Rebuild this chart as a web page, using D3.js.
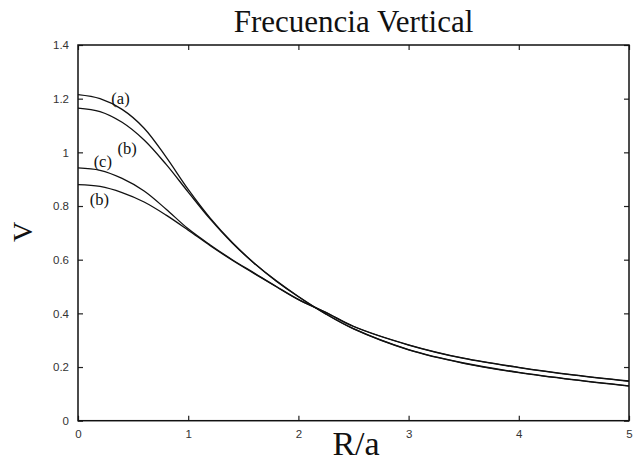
<!DOCTYPE html>
<html>
<head>
<meta charset="utf-8">
<script src="https://cdn.jsdelivr.net/npm/d3@7"></script>
<style>
  html, body { margin: 0; padding: 0; background: #fff; }
  svg { display: block; }
</style>
</head>
<body>
<svg id="chart" width="635" height="462"></svg>
<script>
// Radial positions R/a where the vertical frequency is sampled
const radius = [0, 0.2, 0.4, 0.6, 0.8, 1.0, 1.2, 1.4, 1.6, 1.8, 2.0, 2.25, 2.5, 3.0, 3.5, 4.0, 4.5, 5.0];

// Vertical frequency for each model
const nuA  = [1.215, 1.200, 1.160, 1.090, 0.982, 0.862, 0.755, 0.664, 0.587, 0.521, 0.463, 0.398, 0.343, 0.265, 0.215, 0.180, 0.153, 0.130];
const nuB1 = [1.165, 1.152, 1.112, 1.046, 0.955, 0.852, 0.751, 0.662, 0.586, 0.520, 0.462, 0.397, 0.342, 0.264, 0.214, 0.179, 0.152, 0.129];
const nuC  = [0.942, 0.933, 0.903, 0.856, 0.788, 0.715, 0.655, 0.600, 0.550, 0.500, 0.452, 0.404, 0.352, 0.283, 0.233, 0.199, 0.171, 0.148];
const nuB2 = [0.880, 0.873, 0.850, 0.815, 0.766, 0.710, 0.652, 0.598, 0.548, 0.499, 0.451, 0.403, 0.351, 0.282, 0.232, 0.198, 0.170, 0.147];

const series = [nuA, nuB1, nuC, nuB2];

// Curve tags and where they sit (data units: R/a, V)
const tagText = ["(a)", "(b)", "(c)", "(b)"];
const tagR    = [0.386, 0.445, 0.225, 0.195];
const tagV    = [1.181, 0.993, 0.945, 0.803];

// Axis ticks
const xTicks = [0, 1, 2, 3, 4, 5];
const yTicks = [0, 0.2, 0.4, 0.6, 0.8, 1.0, 1.2, 1.4];

const svg = d3.select("#chart");
const plotLeft = 78, plotRight = 629, plotTop = 45, plotBottom = 420.7;

const x = d3.scaleLinear().domain([0, 5]).range([plotLeft, plotRight]);
const y = d3.scaleLinear().domain([0, 1.4]).range([plotBottom, plotTop]);

const fmt = d => String(+d.toFixed(1));
const tickFont = "'Liberation Sans', Arial, sans-serif";
const serif = "'Liberation Serif', 'Times New Roman', serif";

// Inward ticks on all four sides
function styleAxis(g) {
  g.select(".domain").remove();
  g.selectAll(".tick line").attr("stroke", "#222").attr("stroke-width", 1.2);
  g.selectAll(".tick text")
    .attr("fill", "#333")
    .style("font-family", tickFont)
    .style("font-size", "11.5px");
}

svg.append("g")
  .attr("transform", `translate(0,${plotBottom})`)
  .call(d3.axisBottom(x).tickValues(xTicks).tickFormat(fmt).tickSizeInner(-5).tickSizeOuter(0).tickPadding(9))
  .call(styleAxis);

svg.append("g")
  .attr("transform", `translate(0,${plotTop})`)
  .call(d3.axisTop(x).tickValues(xTicks).tickFormat("").tickSizeInner(-5).tickSizeOuter(0))
  .call(styleAxis);

svg.append("g")
  .attr("transform", `translate(${plotLeft},0)`)
  .call(d3.axisLeft(y).tickValues(yTicks).tickFormat(fmt).tickSizeInner(-5).tickSizeOuter(0).tickPadding(9))
  .call(styleAxis);

svg.append("g")
  .attr("transform", `translate(${plotRight},0)`)
  .call(d3.axisRight(y).tickValues(yTicks).tickFormat("").tickSizeInner(-5).tickSizeOuter(0))
  .call(styleAxis);

// Frame
svg.append("rect")
  .attr("x", plotLeft).attr("y", plotTop)
  .attr("width", plotRight - plotLeft).attr("height", plotBottom - plotTop)
  .attr("fill", "none").attr("stroke", "#111").attr("stroke-width", 1.5);

// Curves
const line = d3.line()
  .x((d, i) => x(radius[i]))
  .y(d => y(d))
  .curve(d3.curveCatmullRom.alpha(0.5));

svg.append("g").selectAll("path")
  .data(series)
  .join("path")
  .attr("d", line)
  .attr("fill", "none")
  .attr("stroke", "#111")
  .attr("stroke-width", 1.3);

// Curve tags
svg.append("g").selectAll("text")
  .data(tagText)
  .join("text")
  .attr("x", (d, i) => x(tagR[i]))
  .attr("y", (d, i) => y(tagV[i]))
  .attr("text-anchor", "middle")
  .style("font-family", serif)
  .style("font-size", "16.5px")
  .attr("fill", "#111")
  .text(d => d);

// Title and axis names
svg.append("text")
  .attr("x", 353.5).attr("y", 32)
  .attr("text-anchor", "middle")
  .style("font-family", serif)
  .style("font-size", "31px")
  .attr("fill", "#111")
  .text("Frecuencia Vertical");

svg.append("text")
  .attr("x", 356).attr("y", 455)
  .attr("text-anchor", "middle")
  .style("font-family", serif)
  .style("font-size", "34px")
  .attr("fill", "#111")
  .text("R/a");

svg.append("text")
  .attr("transform", "translate(32,232) rotate(-90)")
  .attr("text-anchor", "middle")
  .style("font-family", serif)
  .style("font-size", "28px")
  .attr("fill", "#111")
  .text("V");
</script>
</body>
</html>
